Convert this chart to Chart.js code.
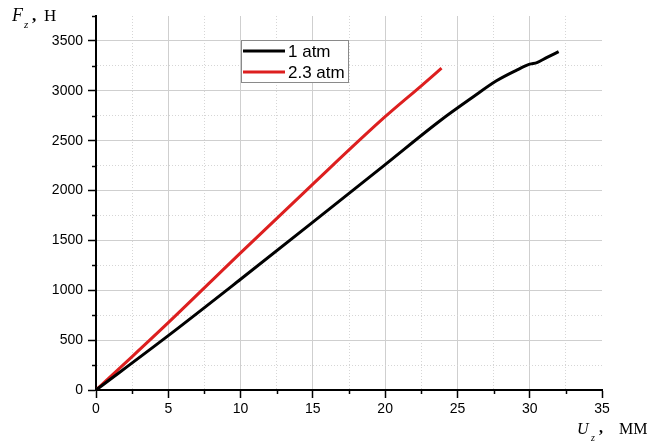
<!DOCTYPE html>
<html>
<head>
<meta charset="utf-8">
<script src="https://cdn.jsdelivr.net/npm/chart.js@4.4.1/dist/chart.umd.min.js"></script>
<style>
  body { margin: 0; background: #fff; }
</style>
</head>
<body>
<canvas id="forceChart" width="654" height="441"></canvas>
<script>
// data: displacement u_z (mm) vs force F_z (N)
const atm1U = [0, 5, 10, 15, 20, 23.8, 26.1, 27.7, 29.1, 30, 30.5, 31.2, 32];
const atm1F = [0, 545, 1110, 1683, 2260, 2700, 2940, 3100, 3207, 3267, 3283, 3335, 3393];

const atm23U = [0, 2.5, 5, 10, 15, 20, 22.5, 23.9];
const atm23F = [0, 335, 675, 1375, 2065, 2740, 3050, 3227];

const seriesLabels = ['1 atm', '2.3 atm'];

const xTicksMajor = [0, 5, 10, 15, 20, 25, 30, 35];
const yTicksMajor = [0, 500, 1000, 1500, 2000, 2500, 3000, 3500];

function toPoints(xs, ys) {
  return xs.map((x, i) => ({ x: x, y: ys[i] }));
}

const sans = '"Liberation Sans", Arial, sans-serif';
const serif = '"Liberation Serif", "Times New Roman", serif';

//legend box inside the plot, drawn by hand
const boxLegend = {
  id: 'boxLegend',
  afterDraw(chart) {
    const ctx = chart.ctx;
    const left = 241, top = 40, w = 107, h = 42;
    ctx.save();
    ctx.fillStyle = '#fff';
    ctx.fillRect(left, top, w, h);
    ctx.strokeStyle = '#8a8a8a';
    ctx.lineWidth = 1;
    ctx.strokeRect(left + 0.5, top + 0.5, w, h);
    chart.data.datasets.forEach((ds, i) => {
      const y = 51 + i * 21;
      ctx.strokeStyle = ds.borderColor;
      ctx.lineWidth = 3;
      ctx.beginPath();
      ctx.moveTo(243, y);
      ctx.lineTo(285, y);
      ctx.stroke();
      ctx.fillStyle = '#000';
      ctx.font = '17px ' + sans;
      ctx.textBaseline = 'middle';
      ctx.fillText(ds.label, 288, y + 1);
    });
    ctx.restore();
  }
};

//axis titles with subscript + minor ticks
const axisExtras = {
  id: 'axisExtras',
  afterDraw(chart) {
    const ctx = chart.ctx;
    const xs = chart.scales.x, ys = chart.scales.y;
    ctx.save();
    ctx.strokeStyle = '#000';
    ctx.lineWidth = 1.5;
    // minor ticks (half steps)
    for (let v = 2.5; v <= 35; v += 5) {
      const px = Math.round(xs.getPixelForValue(v)) + 0.5;
      ctx.beginPath();
      ctx.moveTo(px, ys.bottom);
      ctx.lineTo(px, ys.bottom + 4);
      ctx.stroke();
    }
    for (let v = 250; v <= 3750; v += 500) {
      const py = Math.round(ys.getPixelForValue(v)) + 0.5;
      ctx.beginPath();
      ctx.moveTo(xs.left, py);
      ctx.lineTo(xs.left - 4, py);
      ctx.stroke();
    }

    ctx.fillStyle = '#000';
    ctx.textBaseline = 'alphabetic';
    // F_z, Н
    ctx.font = 'italic 18px ' + serif;
    ctx.fillText('F', 12, 21);
    ctx.font = 'italic 11px ' + serif;
    ctx.fillText('z', 24, 28);
    ctx.font = 'bold 17px ' + serif;
    ctx.fillText(',', 32, 21);
    ctx.font = '17px ' + serif;
    ctx.fillText('Н', 44, 21);
    // U_z, ММ
    ctx.font = 'italic 16px ' + serif;
    ctx.fillText('U', 577, 434);
    ctx.font = 'italic 10px ' + serif;
    ctx.fillText('z', 591, 441);
    ctx.font = 'bold 16px ' + serif;
    ctx.fillText(',', 599, 433);
    ctx.font = '16px ' + serif;
    ctx.fillText('ММ', 619, 434);
    ctx.restore();
  }
};

function gridColor(maxV, step) {
  return function(c) {
    if (!c.tick) return 'rgba(0,0,0,0)';
    const v = c.tick.value;
    if (v === 0 || v === maxV) return 'rgba(0,0,0,0)';
    return v % step === 0 ? '#cfcfcf' : '#d6d6d6';
  };
}

function gridDash(step) {
  return function(c) {
    if (!c.tick) return [];
    return c.tick.value % step === 0 ? [] : [1, 2];
  };
}

function tickCol(step) {
  return function(c) {
    if (!c.tick) return '#000';
    return c.tick.value % step === 0 ? '#000' : 'rgba(0,0,0,0)';
  };
}

const data = {
  datasets: [{
    label: seriesLabels[0],
    data: toPoints(atm1U, atm1F),
    borderColor: '#000000',
    borderWidth: 3,
    pointRadius: 0,
    showLine: true,
    cubicInterpolationMode: 'monotone'
  }, {
    label: seriesLabels[1],
    data: toPoints(atm23U, atm23F),
    borderColor: '#dd1f1f',
    borderWidth: 3,
    pointRadius: 0,
    showLine: true,
    cubicInterpolationMode: 'monotone'
  }]
};

const config = {
  type: 'scatter',
  data: data,
  options: {
    responsive: false,
    animation: false,
    layout: { padding: { top: 16, right: 52, left: 0, bottom: 0 } },
    plugins: {
      legend: { display: false },
      tooltip: { enabled: false }
    },
    scales: {
      x: {
        type: 'linear',
        min: 0,
        max: 35,
        afterFit: function(s) { s.height = 51; },
        ticks: {
          stepSize: 2.5,
          autoSkip: false,
          maxRotation: 0,
          padding: 3,
          color: '#000',
          font: { family: sans, size: 14 },
          callback: v => xTicksMajor.includes(v) ? v : ''
        },
        grid: {
          color: gridColor(35, 5),
          lineWidth: 1,
          tickLength: 8,
          tickWidth: 1.5,
          tickColor: tickCol(5)
        },
        border: { color: '#000', width: 2, dash: gridDash(5) }
      },
      y: {
        type: 'linear',
        min: 0,
        max: 3750,
        afterFit: function(s) { s.width = 96; },
        ticks: {
          stepSize: 250,
          autoSkip: false,
          padding: 5,
          color: '#000',
          font: { family: sans, size: 14 },
          callback: v => yTicksMajor.includes(v) ? v : ''
        },
        grid: {
          color: gridColor(3750, 500),
          lineWidth: 1,
          tickLength: 8,
          tickWidth: 1.5,
          tickColor: tickCol(500)
        },
        border: { color: '#000', width: 2, dash: gridDash(500) }
      }
    }
  },
  plugins: [boxLegend, axisExtras]
};

//create the chart
const forceChart = new Chart(document.getElementById('forceChart'), config);
</script>
</body>
</html>
